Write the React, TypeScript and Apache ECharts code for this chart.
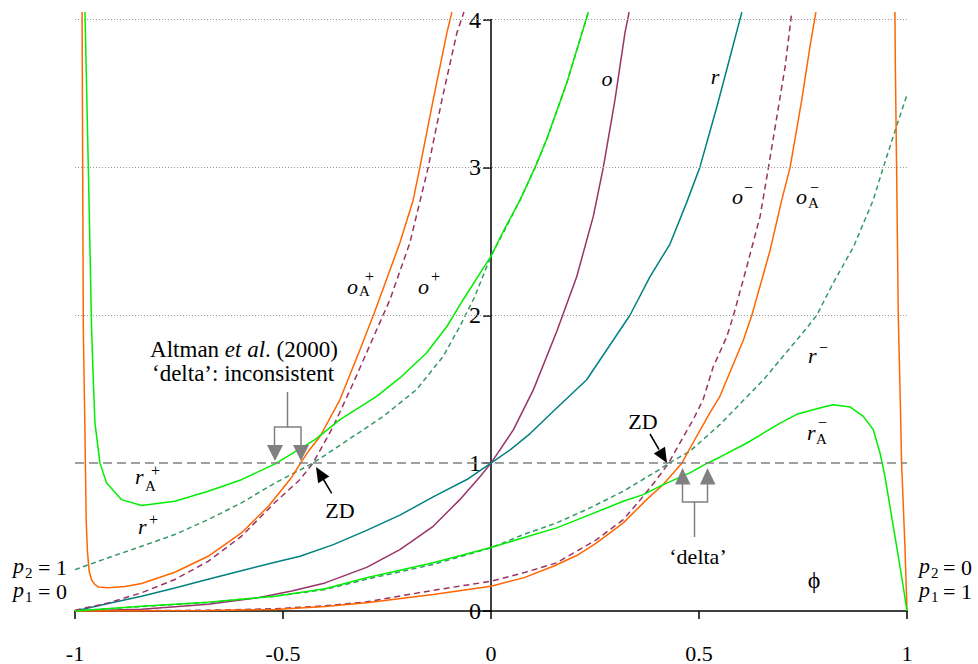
import React, { useEffect, useRef } from 'react';
import * as echarts from 'echarts';

type Pt = [number, number];

// ---- axes ----
const xMin = -1;
const xMax = 1;
const xInterval = 0.5;
const yMin = 0;
const yMax = 4;
const yInterval = 1;
const gridLevels = [2, 3, 4];
const refLevel = 1;

// ---- curves (x = phi, y = measure) ----
const oData: Pt[] = [
  [-1, 0], [-0.84, 0.012], [-0.68, 0.045], [-0.56, 0.09], [-0.479, 0.135], [-0.399, 0.19],
  [-0.299, 0.295], [-0.219, 0.415], [-0.139, 0.573], [-0.075, 0.753], [-0.026, 0.91], [0, 1],
  [0.054, 1.226], [0.102, 1.497], [0.158, 1.89], [0.206, 2.26], [0.246, 2.67], [0.27, 3.0],
  [0.298, 3.456], [0.322, 3.91], [0.332, 4.05],
];
const rData: Pt[] = [
  [-1, 0], [-0.92, 0.05], [-0.84, 0.1], [-0.76, 0.155], [-0.68, 0.215], [-0.6, 0.272],
  [-0.519, 0.33], [-0.459, 0.37], [-0.379, 0.449], [-0.299, 0.545], [-0.219, 0.648],
  [-0.139, 0.772], [-0.058, 0.889], [0, 1], [0.046, 1.09], [0.094, 1.2], [0.158, 1.373],
  [0.23, 1.564], [0.334, 2.0], [0.382, 2.26], [0.43, 2.48], [0.47, 2.76], [0.502, 3.0],
  [0.543, 3.41], [0.575, 3.75], [0.603, 4.05],
];
const oPlusData: Pt[] = [
  [-1, 0.005], [-0.92, 0.055], [-0.84, 0.123], [-0.76, 0.213], [-0.68, 0.336], [-0.6, 0.505],
  [-0.519, 0.735], [-0.459, 0.889], [-0.428, 1.0], [-0.379, 1.249], [-0.331, 1.542],
  [-0.283, 1.85], [-0.243, 2.105], [-0.195, 2.49], [-0.151, 3.0], [-0.118, 3.456],
  [-0.082, 3.91], [-0.065, 4.05],
];
const oAPlusData: Pt[] = [
  [-0.983, 4.05], [-0.98, 1.9], [-0.976, 1.2], [-0.973, 0.6], [-0.97, 0.4], [-0.966, 0.27],
  [-0.96, 0.21], [-0.952, 0.178], [-0.944, 0.163], [-0.92, 0.157], [-0.88, 0.165],
  [-0.84, 0.186], [-0.76, 0.262], [-0.68, 0.37], [-0.6, 0.528], [-0.535, 0.708],
  [-0.479, 0.905], [-0.459, 0.995], [-0.439, 1.08], [-0.411, 1.18], [-0.363, 1.43],
  [-0.315, 1.767], [-0.28, 2.02], [-0.219, 2.49], [-0.187, 2.78], [-0.171, 3.0],
  [-0.139, 3.456], [-0.106, 3.91], [-0.094, 4.05],
];
const rPlusData: Pt[] = [
  [-1, 0.28], [-0.92, 0.36], [-0.84, 0.438], [-0.76, 0.517], [-0.68, 0.618], [-0.6, 0.731],
  [-0.519, 0.866], [-0.428, 1.0], [-0.355, 1.136], [-0.259, 1.316], [-0.179, 1.497],
  [-0.115, 1.722], [-0.075, 1.924], [-0.04, 2.12], [0, 2.4], [0.03, 2.56], [0.07, 2.78],
  [0.106, 3.0], [0.134, 3.19], [0.182, 3.57], [0.234, 4.05],
];
const rAPlusData: Pt[] = [
  [-0.976, 4.05], [-0.968, 3.0], [-0.96, 1.9], [-0.956, 1.56], [-0.952, 1.27], [-0.94, 1.0],
  [-0.924, 0.866], [-0.888, 0.753], [-0.84, 0.713], [-0.76, 0.742], [-0.68, 0.81],
  [-0.6, 0.888], [-0.519, 0.995], [-0.423, 1.159], [-0.363, 1.294], [-0.275, 1.451],
  [-0.219, 1.576], [-0.155, 1.745], [-0.106, 1.924], [-0.067, 2.105], [0, 2.4], [0.03, 2.57],
  [0.07, 2.78], [0.106, 3.0], [0.134, 3.19], [0.182, 3.57], [0.234, 4.05],
];
const rMinusData: Pt[] = [
  [-1, 0], [-0.84, 0.03], [-0.68, 0.058], [-0.519, 0.1], [-0.399, 0.145], [-0.299, 0.215],
  [-0.139, 0.315], [0, 0.427], [0.078, 0.517], [0.158, 0.596], [0.238, 0.697], [0.318, 0.81],
  [0.398, 0.945], [0.428, 1.0], [0.478, 1.08], [0.55, 1.26], [0.655, 1.564], [0.755, 1.9],
  [0.783, 2.0], [0.823, 2.22], [0.871, 2.46], [0.919, 2.78], [0.943, 3.0], [0.975, 3.28],
  [1.0, 3.49],
];
const rAMinusData: Pt[] = [
  [-1, 0], [-0.84, 0.032], [-0.68, 0.06], [-0.519, 0.1], [-0.399, 0.15], [-0.299, 0.225],
  [-0.139, 0.326], [0, 0.43], [0.078, 0.495], [0.158, 0.562], [0.238, 0.652], [0.318, 0.742],
  [0.366, 0.787], [0.414, 0.855], [0.478, 0.934], [0.52, 1.0], [0.55, 1.04], [0.615, 1.136],
  [0.695, 1.27], [0.735, 1.33], [0.799, 1.38], [0.823, 1.395], [0.863, 1.38], [0.895, 1.316],
  [0.919, 1.226], [0.935, 1.07], [0.947, 0.91], [0.959, 0.708], [0.975, 0.438],
  [0.987, 0.235], [1.0, 0],
];
const oMinusData: Pt[] = [
  [-1, 0], [-0.68, 0.005], [-0.519, 0.015], [-0.399, 0.035], [-0.299, 0.062], [-0.139, 0.14],
  [0, 0.201], [0.078, 0.258], [0.158, 0.326], [0.206, 0.404], [0.254, 0.483], [0.318, 0.618],
  [0.366, 0.776], [0.398, 0.889], [0.427, 1.0], [0.454, 1.136], [0.486, 1.294], [0.51, 1.43],
  [0.534, 1.65], [0.567, 1.857], [0.583, 2.0], [0.615, 2.33], [0.647, 2.67], [0.667, 3.0],
  [0.687, 3.34], [0.707, 3.68], [0.723, 4.05],
];
const oAMinusData: Pt[] = [
  [-1, 0], [-0.68, 0.003], [-0.519, 0.01], [-0.459, 0.02], [-0.399, 0.03], [-0.299, 0.055],
  [-0.139, 0.111], [0, 0.168], [0.078, 0.224], [0.15, 0.303], [0.206, 0.375], [0.254, 0.461],
  [0.318, 0.596], [0.374, 0.753], [0.414, 0.855], [0.458, 0.997], [0.494, 1.18], [0.526, 1.34],
  [0.55, 1.45], [0.607, 1.834], [0.627, 2.0], [0.671, 2.44], [0.699, 2.78], [0.719, 3.0],
  [0.747, 3.456], [0.767, 3.82], [0.781, 4.05],
];
const oAMinusRightData: Pt[] = [
  [0.971, 4.05], [0.972, 3.68], [0.975, 3.0], [0.979, 2.0], [0.984, 1.4], [0.987, 1.0],
  [0.995, 0.44], [1.0, 0],
];

const FONT = "'Liberation Serif','Times New Roman',Times,serif";
const PURPLE = '#993366';
const TEAL = '#008080';
const ORANGE = '#FF6600';
const GREEN = '#00EE00';
const DGREEN = '#339966';
const GRAY = '#808080';

function lineSeries(name: string, data: Pt[], color: string, dashed?: number[], z = 3) {
  return {
    name,
    type: 'line',
    data,
    showSymbol: false,
    symbol: 'none',
    clip: false,
    silent: true,
    z,
    lineStyle: { color, width: 1.5, type: dashed ? dashed : 'solid' },
  };
}

function txt(x: number, y: number, text: string, size = 22, italic = false, align = 'left') {
  return {
    type: 'text',
    x,
    y,
    silent: true,
    z: 100,
    style: {
      text,
      fontFamily: FONT,
      fontSize: size,
      fontStyle: italic ? 'italic' : 'normal',
      fill: '#000',
      align,
      verticalAlign: 'middle',
    },
  };
}

function pline(points: number[][], color: string, width = 1.5) {
  return {
    type: 'polyline',
    silent: true,
    z: 100,
    shape: { points },
    style: { stroke: color, lineWidth: width, fill: 'none' },
  };
}

function tri(points: number[][], color: string) {
  return {
    type: 'polygon',
    silent: true,
    z: 100,
    shape: { points },
    style: { fill: color, stroke: 'none' },
  };
}

export default function App() {
  const ref = useRef<HTMLDivElement>(null);
  useEffect(() => {
    if (!ref.current) return;
    const chart = echarts.init(ref.current, undefined, { renderer: 'svg' });
    const graphics: any[] = [
      // curve labels
      txt(607, 78, 'o', 22, true, 'center'),
      txt(715, 76, 'r', 22, true, 'center'),
      txt(732, 196, 'o', 22, true), txt(744, 187.5, '\u2212', 16),
      txt(796, 196, 'o', 22, true), txt(808, 203, 'A', 15), txt(810, 187, '\u2212', 16),
      txt(347, 286, 'o', 22, true), txt(359, 291, 'A', 15), txt(365, 276, '+', 16),
      txt(418, 286, 'o', 22, true), txt(431, 276, '+', 16),
      txt(808, 355, 'r', 22, true), txt(819, 347, '\u2212', 16),
      txt(807, 432, 'r', 22, true), txt(816, 439, 'A', 15), txt(818, 422.5, '\u2212', 16),
      txt(135, 476, 'r', 22, true), txt(145, 486, 'A', 15), txt(151, 470, '+', 16),
      txt(138, 526, 'r', 22, true), txt(149, 519, '+', 16),
      // ZD
      txt(340, 510, 'ZD', 22, false, 'center'),
      txt(643, 421, 'ZD', 22, false, 'center'),
      // Altman
      {
        type: 'text', x: 244, y: 349, silent: true, z: 100,
        style: {
          text: 'Altman {i|et al}. (2000)',
          fontFamily: FONT, fontSize: 23, fill: '#000', align: 'center', verticalAlign: 'middle',
          rich: { i: { fontFamily: FONT, fontSize: 23, fontStyle: 'italic', fill: '#000' } },
        },
      },
      txt(243, 373, '\u2018delta\u2019: inconsistent', 23, false, 'center'),
      txt(698, 556, '\u2018delta\u2019', 22, false, 'center'),
      txt(814, 580, '\u03d5', 24, false, 'center'),
      // p labels left
      txt(13, 565, 'p', 22, true), txt(25, 573, '2', 15), txt(38, 567.5, '= 1', 22),
      txt(13, 589, 'p', 22, true), txt(25, 597, '1', 15), txt(38, 591, '= 0', 22),
      // p labels right
      txt(919, 565, 'p', 22, true), txt(931, 573, '2', 15), txt(943, 567.5, '= 0', 22),
      txt(919, 589, 'p', 22, true), txt(931, 597, '1', 15), txt(943, 591, '= 1', 22),
      // gray bracket (left)
      pline([[287.5, 392], [287.5, 427], [274.5, 427], [274.5, 446]], GRAY),
      pline([[287.5, 427], [301, 427], [301, 446]], GRAY),
      tri([[267, 445], [283, 445], [275, 461]], GRAY),
      tri([[293, 445], [309, 445], [301, 461]], GRAY),
      // gray bracket (right)
      pline([[694.5, 537], [694.5, 502], [682.5, 502], [682.5, 484]], GRAY),
      pline([[694.5, 502], [707.5, 502], [707.5, 484]], GRAY),
      tri([[675, 484.5], [690.5, 484.5], [682.5, 468]], GRAY),
      tri([[700, 484.5], [715.5, 484.5], [707.5, 468]], GRAY),
      // black ZD arrows
      pline([[331.7, 493.3], [323.5, 479.5]], '#000', 1.5),
      tri([[316, 467], [329.3, 476.6], [318.1, 483.2]], '#000'),
      pline([[650, 434], [659, 449.5]], '#000', 1.5),
      tri([[667, 463], [653.8, 453.4], [665, 446.8]], '#000'),
    ];

    chart.setOption({
      animation: false,
      grid: { left: 75, right: 71, top: 19.5, bottom: 52.5, containLabel: false },
      xAxis: {
        type: 'value',
        min: xMin,
        max: xMax,
        interval: xInterval,
        axisLine: { onZero: false, lineStyle: { color: '#000', width: 1.5 } },
        axisTick: { show: true, inside: false, length: 8, lineStyle: { color: '#000', width: 1.5 } },
        axisLabel: {
          color: '#000', fontFamily: FONT, fontSize: 22, margin: 31,
          formatter: (v: number) => String(v),
        },
        splitLine: { show: false },
      },
      yAxis: {
        type: 'value',
        min: yMin,
        max: yMax,
        interval: yInterval,
        position: 'left',
        offset: -416,
        axisLine: { onZero: false, lineStyle: { color: '#000', width: 1.5 } },
        axisTick: { show: true, inside: false, length: 8, lineStyle: { color: '#000', width: 1.5 } },
        axisLabel: { color: '#000', fontFamily: FONT, fontSize: 24, margin: 10 },
        splitLine: { show: false },
      },
      series: [
        {
          type: 'line',
          data: [],
          silent: true,
          z: 1,
          markLine: {
            silent: true,
            symbol: ['none', 'none'],
            label: { show: false },
            animation: false,
            data: [
              ...gridLevels.map((v) => ({
                yAxis: v,
                lineStyle: { color: '#999', width: 1, type: [1, 2] },
              })),
              { yAxis: refLevel, lineStyle: { color: GRAY, width: 1.5, type: [9, 5] } },
            ],
          },
        },
        lineSeries('o', oData, PURPLE),
        lineSeries('r', rData, TEAL),
        lineSeries('o+', oPlusData, PURPLE, [6, 4]),
        lineSeries('o-', oMinusData, PURPLE, [6, 4]),
        lineSeries('r+', rPlusData, DGREEN, [5, 3.5]),
        lineSeries('r-', rMinusData, DGREEN, [5, 3.5]),
        lineSeries('oA+', oAPlusData, ORANGE),
        lineSeries('oA-', oAMinusData, ORANGE),
        lineSeries('oA- right', oAMinusRightData, ORANGE),
        lineSeries('rA+', rAPlusData, GREEN, undefined, 4),
        lineSeries('rA-', rAMinusData, GREEN, undefined, 4),
      ],
      graphic: graphics,
    });
    return () => chart.dispose();
  }, []);
  return (
    <div
      ref={ref}
      style={{ position: 'absolute', left: 0, top: 0, width: 978, height: 664, background: '#fff' }}
    />
  );
}
